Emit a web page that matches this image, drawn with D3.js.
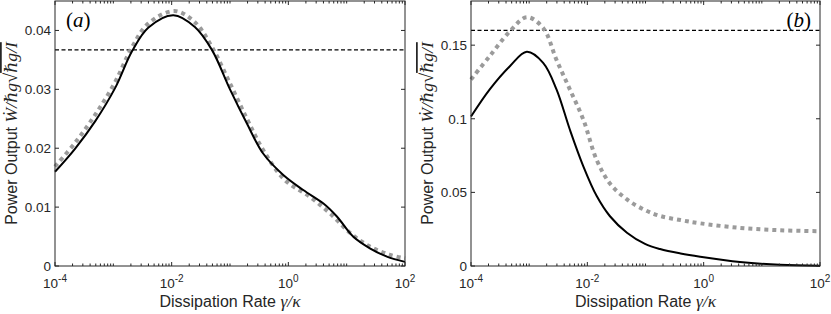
<!DOCTYPE html>
<html>
<head>
<meta charset="utf-8">
<script src="https://cdn.jsdelivr.net/npm/d3@7"></script>
<style>
  body { margin: 0; background: #fff; }
  svg { display: block; }
  .tick-label { font-family: "Liberation Sans", Arial, sans-serif; font-size: 13.5px; fill: #262626; }
  .axis-label { font-family: "Liberation Sans", Arial, sans-serif; font-size: 16px; fill: #262626; }
  .math { font-family: "Liberation Serif", "DejaVu Serif", serif; font-style: italic; }
  .upright { font-family: "Liberation Serif", "DejaVu Serif", serif; font-style: normal; }
</style>
</head>
<body>
<div id="chart"></div>
<script>
// x values: dissipation rate gamma/kappa, y values: power output
const xA = [1e-4, 2.2e-4, 4.9e-4, 1.07e-3, 2.1e-3, 4.0e-3, 1.07e-2, 2.5e-2, 4.9e-2, 0.1, 0.195, 0.37, 0.81, 1.8, 4.0, 6.8, 12.9, 25, 49, 100];
const solidA = [0.0160, 0.0199, 0.0246, 0.0302, 0.0365, 0.0405, 0.0426, 0.0406, 0.0367, 0.0300, 0.0242, 0.0191, 0.0155, 0.0129, 0.0106, 0.0084, 0.0050, 0.0030, 0.0016, 0.0007];
const xAd = [1e-4, 2.2e-4, 4.9e-4, 1.07e-3, 2.1e-3, 4.0e-3, 1.12e-2, 2.5e-2, 4.9e-2, 0.1, 0.195, 0.37, 0.87, 2.3, 5.1, 11.5, 25, 55, 100];
const dottedA = [0.0169, 0.0209, 0.0257, 0.0312, 0.0372, 0.0412, 0.0433, 0.0414, 0.0372, 0.0310, 0.0250, 0.0197, 0.0146, 0.0118, 0.0090, 0.0056, 0.0033, 0.0019, 0.0013];
const refA = 0.0367;

const xB = [1e-4, 2.1e-4, 4.7e-4, 9.1e-4, 1.74e-3, 2.95e-3, 5.0e-3, 8.5e-3, 1.45e-2, 2.45e-2, 4.8e-2, 9.8e-2, 0.178, 0.4, 0.87, 4.2, 20.4, 100];
const solidB = [0.1015, 0.1200, 0.1359, 0.1455, 0.1380, 0.1200, 0.0927, 0.0679, 0.0475, 0.0338, 0.0226, 0.0150, 0.0115, 0.0085, 0.0063, 0.0027, 0.0008, 0.0002];
const dottedB = [0.1267, 0.1426, 0.1596, 0.1690, 0.1617, 0.1400, 0.1200, 0.0996, 0.0720, 0.0560, 0.0452, 0.0380, 0.0340, 0.0312, 0.0290, 0.0259, 0.0243, 0.0236];
const refB = 0.16;

const yTicksA = [0, 0.01, 0.02, 0.03, 0.04];
const yTicksB = [0, 0.05, 0.1, 0.15];
const xTickExps = [-4, -2, 0, 2];

const width = 831, height = 314;
const plotTop = 1, plotBottom = 266;

const svg = d3.select("#chart").append("svg")
    .attr("width", width)
    .attr("height", height);

const drawPanel = (p) => {
    const x = d3.scaleLog().domain([1e-4, 1e2]).range([p.left, p.right]);
    const y = d3.scaleLinear().domain([0, p.yMax]).range([plotBottom, plotTop]);
    const g = svg.append("g");

    // horizontal reference line
    g.append("line")
        .attr("x1", p.left).attr("x2", p.right)
        .attr("y1", y(p.ref)).attr("y2", y(p.ref))
        .attr("stroke", "#000").attr("stroke-width", 1.2)
        .attr("stroke-dasharray", "4,2.5");

    const line = (xs) => d3.line()
        .x((d, i) => x(xs[i]))
        .y(d => y(d))
        .curve(d3.curveCatmullRom.alpha(0.5));

    g.append("path")
        .attr("d", line(p.xd)(p.dotted))
        .attr("fill", "none")
        .attr("stroke", "#9b9b9b")
        .attr("stroke-width", 4)
        .attr("stroke-dasharray", "4,4");

    g.append("path")
        .attr("d", line(p.xs)(p.solid))
        .attr("fill", "none")
        .attr("stroke", "#000")
        .attr("stroke-width", 2);

    // box
    g.append("rect")
        .attr("x", p.left).attr("y", plotTop)
        .attr("width", p.right - p.left).attr("height", plotBottom - plotTop)
        .attr("fill", "none").attr("stroke", "#262626").attr("stroke-width", 1);

    // x ticks (inward, bottom and top)
    const majors = d3.range(-4, 3).map(e => Math.pow(10, e));
    const minors = [];
    d3.range(-4, 2).forEach(e => d3.range(2, 10).forEach(m => minors.push(m * Math.pow(10, e))));
    const tickData = majors.map(v => ({v, len: xTickExps.includes(Math.round(Math.log10(v))) ? 4 : 2.5}))
        .concat(minors.map(v => ({v, len: 2.5})));
    g.selectAll(".xtb").data(tickData).join("line")
        .attr("x1", d => x(d.v)).attr("x2", d => x(d.v))
        .attr("y1", plotBottom).attr("y2", d => plotBottom - d.len)
        .attr("stroke", "#262626").attr("stroke-width", 1);
    g.selectAll(".xtt").data(tickData).join("line")
        .attr("x1", d => x(d.v)).attr("x2", d => x(d.v))
        .attr("y1", plotTop).attr("y2", d => plotTop + d.len)
        .attr("stroke", "#262626").attr("stroke-width", 1);

    // x tick labels
    xTickExps.forEach(e => {
        const t = g.append("text")
            .attr("class", "tick-label")
            .attr("x", x(Math.pow(10, e)))
            .attr("y", 288)
            .attr("text-anchor", "middle");
        t.append("tspan").text("10");
        t.append("tspan").attr("dy", -6).style("font-size", "10px").text(e < 0 ? "-" + (-e) : String(e));
    });

    // y ticks (inward, left and right)
    g.selectAll(".yt").data(p.yTicks).join("line")
        .attr("x1", p.left).attr("x2", p.left + 4)
        .attr("y1", d => y(d)).attr("y2", d => y(d))
        .attr("stroke", "#262626");
    g.selectAll(".ytr").data(p.yTicks).join("line")
        .attr("x1", p.right).attr("x2", p.right - 4)
        .attr("y1", d => y(d)).attr("y2", d => y(d))
        .attr("stroke", "#262626");
    g.selectAll(".ytl").data(p.yTicks).join("text")
        .attr("class", "tick-label")
        .attr("x", p.left - 4)
        .attr("y", d => y(d) + 5)
        .attr("text-anchor", "end")
        .text(d => d === 0 ? "0" : String(d));

    // x axis label
    const xl = g.append("text")
        .attr("class", "axis-label")
        .attr("x", (p.left + p.right) / 2)
        .attr("y", 307)
        .attr("text-anchor", "middle");
    xl.append("tspan").text("Dissipation Rate ");
    xl.append("tspan").attr("class", "math").style("font-size", "17.5px").text("γ/κ");

    // y axis label
    const yl = g.append("text")
        .attr("class", "axis-label")
        .attr("transform", `translate(${p.yLabelX},${(plotTop + plotBottom) / 2}) rotate(-90)`)
        .attr("text-anchor", "middle");
    yl.append("tspan").text("Power Output ");
    yl.append("tspan").attr("class", "math").style("font-size", "17.5px").text("W\u0307/ℏg");
    yl.append("tspan").attr("class", "upright").style("font-size", "18.5px").text("√");
    yl.append("tspan").attr("class", "math").style("font-size", "17.5px")
        .style("text-decoration", "overline").text("ℏg/I ");

    // panel label
    const tag = g.append("text")
        .style("font-size", "21px")
        .attr("x", p.tagX)
        .attr("y", 27)
        .attr("text-anchor", p.tagAnchor);
    tag.append("tspan").attr("class", "upright").text("(");
    tag.append("tspan").attr("class", "math").text(p.tag);
    tag.append("tspan").attr("class", "upright").text(")");
};

drawPanel({left: 55, right: 405, yMax: 0.045, xs: xA, solid: solidA, xd: xAd, dotted: dottedA,
    ref: refA, yTicks: yTicksA, yLabelX: 17, tag: "a", tagX: 66, tagAnchor: "start"});
drawPanel({left: 471, right: 820, yMax: 0.18, xs: xB, solid: solidB, xd: xB, dotted: dottedB,
    ref: refB, yTicks: yTicksB, yLabelX: 433, tag: "b", tagX: 811, tagAnchor: "end"});
</script>
</body>
</html>
